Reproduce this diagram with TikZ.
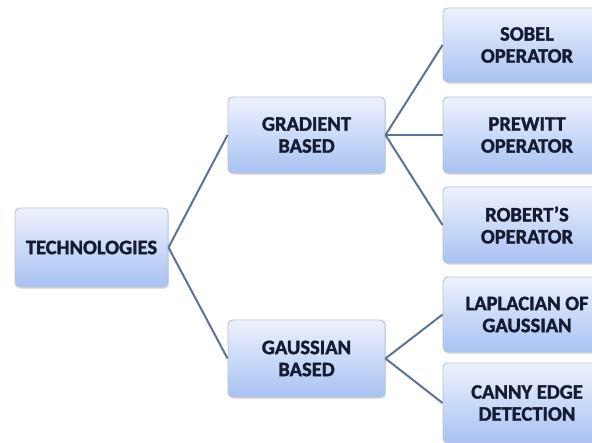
\documentclass[tikz,border=0pt]{standalone}
\usepackage{fontspec}
\setmainfont{Carlito}[BoldFeatures={FakeBold=1.6}]
\usepackage{xcolor}
\usetikzlibrary{shadows}
\definecolor{boxtop}{HTML}{EEF2FD}
\definecolor{boxbot}{HTML}{A8C2F2}
\definecolor{boxline}{HTML}{B4C1DA}
\definecolor{linkcol}{HTML}{5A7394}
\definecolor{txtcol}{HTML}{151B33}

\begin{document}
\begin{tikzpicture}[x=0.03cm, y=-0.03cm]
		\tikzstyle{box}=[draw=boxline, line width=0.8pt, rounded corners=4pt, top color=boxtop, bottom color=boxbot,
		                 drop shadow={opacity=0.25, shadow xshift=1pt, shadow yshift=-1.5pt},
		                 align=center, text=txtcol, font=\fontsize{17.5}{18.8}\selectfont\bfseries, inner sep=0pt]
		\tikzstyle{link}=[draw=linkcol, line width=1.7pt]
		\useasboundingbox (0, 0) rectangle (592, 442);
		\clip (0, 0) rectangle (592, 442);
		\node[box, minimum width=153*0.03cm, minimum height=79*0.03cm] (tech) at (91.5, 247.5) {TECHNOLOGIES};
		\node[box, minimum width=157*0.03cm, minimum height=76*0.03cm] (grad) at (306.5, 135) {GRADIENT\\BASED};
		\node[box, minimum width=157*0.03cm, minimum height=77*0.03cm] (gauss) at (306.5, 358.5) {GAUSSIAN\\BASED};
		\node[box, minimum width=168*0.03cm, minimum height=74*0.03cm] (sobel) at (527, 45) {SOBEL\\OPERATOR};
		\node[box, minimum width=168*0.03cm, minimum height=76*0.03cm] (prew) at (527, 135) {PREWITT\\OPERATOR};
		\node[box, minimum width=168*0.03cm, minimum height=76*0.03cm] (rob) at (527, 225) {ROBERT'S\\OPERATOR};
		\node[box, minimum width=168*0.03cm, minimum height=75*0.03cm] (lap) at (527, 314.5) {LAPLACIAN OF\\GAUSSIAN};
		\node[box, minimum width=168*0.03cm, minimum height=80*0.03cm] (canny) at (527, 403) {CANNY EDGE\\DETECTION};
		\path[link] (tech.east) edge (grad.west) (tech.east) edge (gauss.west)
		            (grad.east) edge (sobel.west) (grad.east) edge (prew.west) (grad.east) edge (rob.west)
		            (gauss.east) edge (lap.west) (gauss.east) edge (canny.west);
	\end{tikzpicture}
\end{document}
